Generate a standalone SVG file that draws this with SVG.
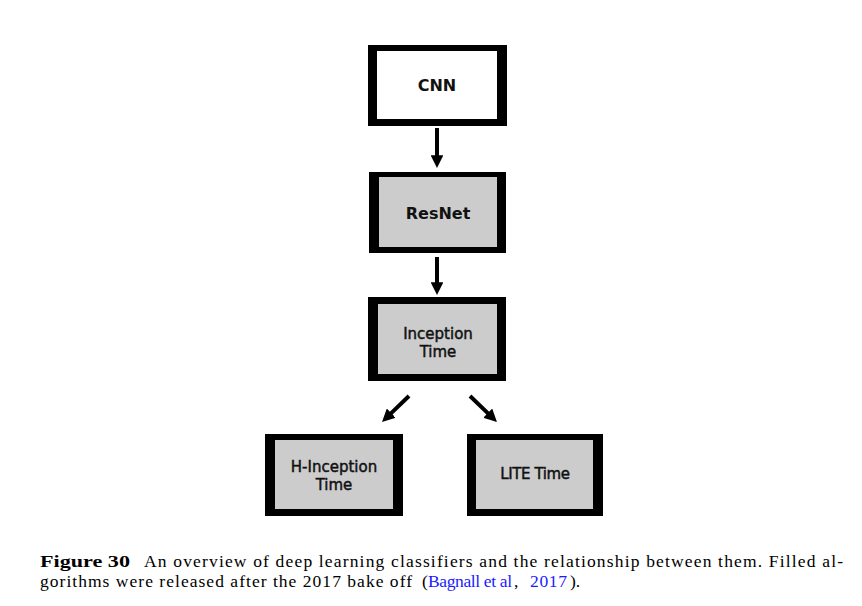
<svg xmlns="http://www.w3.org/2000/svg" width="862" height="606" viewBox="0 0 862 606">
<style>
.frame{fill:#000}
.white{fill:#fff}
.grey{fill:#cccccc}
.lbl{font-family:"DejaVu Sans",sans-serif;fill:#111;text-anchor:middle}
.big{font-size:16px;font-weight:bold}
.small{font-size:15px;stroke:#111;stroke-width:0.45}
.edge{stroke:#000;stroke-width:4;fill:none;marker-end:url(#ah)}
.cap{font-family:"Liberation Serif","Times New Roman",serif;font-size:17.5px;fill:#000}
.link{fill:#1a1aff}
</style>
<defs>
<marker id="ah" viewBox="0 0 10 10" refX="2" refY="5" markerWidth="3.2" markerHeight="3.2" orient="auto" markerUnits="strokeWidth">
<path d="M0,0 L10,5 L0,10 Z" fill="#000"/>
</marker>
</defs>
<rect width="862" height="606" fill="#fff"/>
<g id="cnn">
<rect class="frame" x="368" y="45" width="139" height="81"/>
<rect class="white" x="377" y="51" width="120" height="68"/>
<text class="lbl big" x="437" y="91">CNN</text>
</g>
<g id="resnet">
<rect class="frame" x="369" y="172" width="137" height="81"/>
<rect class="grey" x="379" y="177" width="118" height="70"/>
<text class="lbl big" x="438" y="219">ResNet</text>
</g>
<g id="inceptiontime">
<rect class="frame" x="368" y="297" width="138" height="84"/>
<rect class="grey" x="378" y="304" width="119" height="70"/>
<text class="lbl small" x="438" y="339">Inception</text>
<text class="lbl small" x="438" y="357">Time</text>
</g>
<g id="hinceptiontime">
<rect class="frame" x="265" y="434" width="138" height="82"/>
<rect class="grey" x="275" y="440" width="118" height="69"/>
<text class="lbl small" x="334" y="472">H-Inception</text>
<text class="lbl small" x="334" y="490">Time</text>
</g>
<g id="litetime">
<rect class="frame" x="467" y="434" width="136" height="82"/>
<rect class="grey" x="476" y="440" width="117" height="69"/>
<text class="lbl small" x="535" y="479" letter-spacing="-0.4">LITE Time</text>
</g>
<g id="connectors">
<line class="edge" x1="437" y1="128" x2="437" y2="157.8"/>
<line class="edge" x1="437" y1="257" x2="437" y2="284.8"/>
<line class="edge" x1="409" y1="396" x2="389.4" y2="414.9"/>
<line class="edge" x1="470" y1="396" x2="489.6" y2="414.9"/>
</g>
<g id="caption">
<text class="cap" x="40" y="567" font-weight="bold" textLength="90" lengthAdjust="spacingAndGlyphs">Figure 30</text>
<text class="cap" x="144" y="567" textLength="699" lengthAdjust="spacing">An overview of deep learning classifiers and the relationship between them. Filled al-</text>
<text class="cap" x="40" y="587" textLength="372" lengthAdjust="spacing">gorithms were released after the 2017 bake off</text>
<text class="cap" x="422" y="587">(</text>
<text class="cap link" x="428" y="587" textLength="84" lengthAdjust="spacing">Bagnall et al</text>
<text class="cap" x="514" y="587">,</text>
<text class="cap link" x="530" y="587" textLength="37" lengthAdjust="spacing">2017</text>
<text class="cap" x="570" y="587">).</text>
</g>
</svg>
